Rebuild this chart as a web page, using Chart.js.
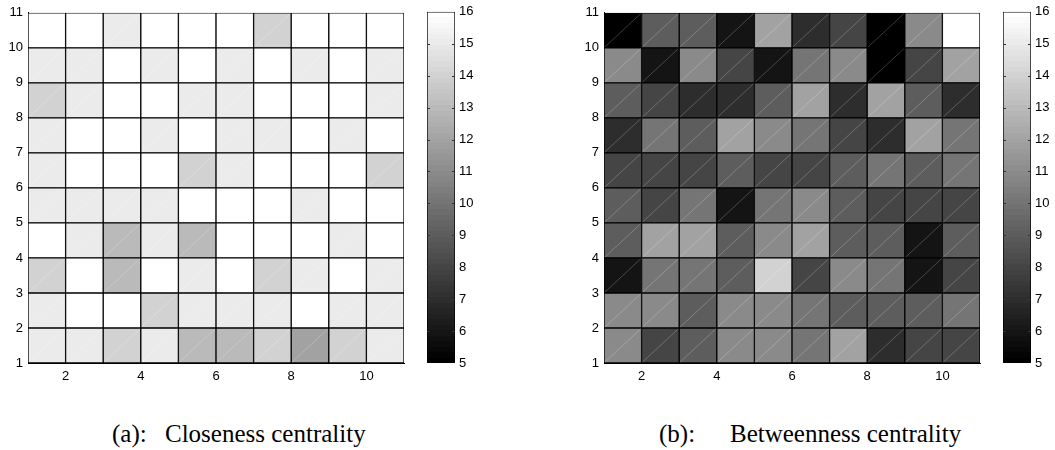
<!DOCTYPE html>
<html>
<head>
<meta charset="utf-8">
<script src="https://cdn.jsdelivr.net/npm/chart.js@4/dist/chart.umd.min.js"></script>
<style>
  html, body { margin: 0; padding: 0; background: #fff; }
  #wrap { position: relative; width: 1055px; height: 450px; overflow: hidden; background: #fff; }
  canvas { position: absolute; top: 0; }
  .cap { position: absolute; top: 421px; font-family: "Liberation Serif", "Times New Roman", serif; font-size: 25px; line-height: 25px; color: #000; white-space: nowrap; }
</style>
</head>
<body>
<div id="wrap">
  <canvas id="hmA" width="420" height="400" style="left:0px"></canvas>
  <canvas id="cbA" width="60" height="400" style="left:420px"></canvas>
  <canvas id="hmB" width="420" height="400" style="left:576px"></canvas>
  <canvas id="cbB" width="60" height="400" style="left:996px"></canvas>
  <span class="cap" style="left:112px">(a):</span>
  <span class="cap" style="left:165px">Closeness centrality</span>
  <span class="cap" style="left:659px">(b):</span>
  <span class="cap" style="left:730px">Betweenness centrality</span>
</div>
<script>
// ---- data (rows listed from top y=10..11 down to bottom y=1..2; columns x=1..10) ----
const columns = [1, 2, 3, 4, 5, 6, 7, 8, 9, 10];
const rowStarts = [10, 9, 8, 7, 6, 5, 4, 3, 2, 1];
const closenessRows = [
  [16,16,15,16,16,16,14,16,16,16],
  [15,15,16,15,16,15,16,15,16,15],
  [14,15,16,16,15,15,16,16,16,15],
  [15,16,16,15,16,15,15,16,15,16],
  [15,16,16,16,14,15,16,16,16,14],
  [15,15,15,15,16,16,16,15,16,16],
  [16,15,13,15,13,16,16,16,15,16],
  [14,16,13,16,15,16,14,15,16,15],
  [15,16,16,14,15,15,15,16,15,15],
  [15,15,14,15,13,13,14,12,14,15]
];
const betweennessRows = [
  [5,9,9,6,12,7,8,5,11,16],
  [11,6,11,8,6,10,11,5,8,12],
  [9,8,7,7,9,12,7,12,9,7],
  [7,10,9,12,11,10,8,7,12,10],
  [8,8,8,9,8,8,9,10,9,10],
  [9,8,10,6,10,11,9,8,8,8],
  [9,12,12,9,11,12,9,9,6,9],
  [6,10,10,9,14,8,11,10,6,8],
  [11,11,9,11,11,10,9,9,9,10],
  [11,8,9,11,11,10,12,7,8,8]
];
const xTicks = [2, 4, 6, 8, 10];
const yTicks = [1, 2, 3, 4, 5, 6, 7, 8, 9, 10, 11];
const cbTicks = [5, 6, 7, 8, 9, 10, 11, 12, 13, 14, 15, 16];
const cRange = [5, 16];

// ---- MATLAB gray(64) colormap ----
const NLEV = 64;
function grayLevel(i) { const g = Math.round(255 * i / (NLEV - 1)); return `rgb(${g},${g},${g})`; }
function colorOf(v) {
  let i = Math.floor((v - cRange[0]) / (cRange[1] - cRange[0]) * NLEV);
  i = Math.max(0, Math.min(NLEV - 1, i));
  return grayLevel(i);
}

const tickFont = { family: "'Liberation Sans', Arial, Helvetica, sans-serif", size: 13 };

const diagPlugin = {
  id: 'diag',
  afterDatasetsDraw(chart) {
    const ctx = chart.ctx;
    const meta = chart.getDatasetMeta(0);
    ctx.save();
    ctx.strokeStyle = 'rgba(255,255,255,0.28)';
    ctx.lineWidth = 0.8;
    meta.data.forEach(el => {
      const p = el.getProps(['x', 'y', 'base', 'width'], true);
      const l = p.x - p.width / 2 + 1, r = p.x + p.width / 2 - 1;
      ctx.beginPath();
      ctx.moveTo(l, p.base - 1);
      ctx.lineTo(r, p.y + 1);
      ctx.stroke();
    });
    ctx.restore();
  }
};

function makeHeatmap(id, rows) {
  const cells = [], colors = [];
  rows.forEach((row, k) => {
    row.forEach((v, j) => {
      cells.push({ x: columns[j] + 0.5, y: [rowStarts[k], rowStarts[k] + 1] });
      colors.push(colorOf(v));
    });
  });
  return new Chart(document.getElementById(id), {
    type: 'bar',
    data: {
      datasets: [{
        data: cells,
        backgroundColor: colors,
        borderColor: '#000',
        borderWidth: 1,
        borderSkipped: false,
        barPercentage: 1,
        categoryPercentage: 1
      }]
    },
    plugins: [diagPlugin],
    options: {
      responsive: false,
      animation: false,
      devicePixelRatio: 1,
      layout: { padding: { top: 11, right: 16, bottom: 0, left: 0 } },
      plugins: { legend: { display: false }, tooltip: { enabled: false } },
      scales: {
        x: {
          type: 'linear', min: 1, max: 11, offset: false,
          grid: { display: false, drawTicks: false },
          border: { display: true, color: '#000', width: 1 },
          ticks: { color: '#000', font: tickFont, padding: 6, maxRotation: 0 },
          afterBuildTicks: s => { s.ticks = xTicks.map(v => ({ value: v })); },
          afterFit: s => { s.height = 37; }
        },
        y: {
          type: 'linear', min: 1, max: 11,
          grid: { display: false, drawTicks: false },
          border: { display: true, color: '#000', width: 1 },
          ticks: { color: '#000', font: tickFont, padding: 5 },
          afterBuildTicks: s => { s.ticks = yTicks.map(v => ({ value: v })); },
          afterFit: s => { s.width = 28; }
        }
      }
    }
  });
}

const cbTickPlugin = {
  id: 'cbticks',
  afterDatasetsDraw(chart) {
    const ctx = chart.ctx, ys = chart.scales.y, a = chart.chartArea;
    ctx.save();
    ctx.strokeStyle = '#333';
    ctx.lineWidth = 1;
    cbTicks.forEach(v => {
      if (v === cRange[0] || v === cRange[1]) return;
      const y = Math.round(ys.getPixelForValue(v)) + 0.5;
      ctx.beginPath();
      ctx.moveTo(a.left, y); ctx.lineTo(a.left + 3, y);
      ctx.moveTo(a.right - 3, y); ctx.lineTo(a.right, y);
      ctx.stroke();
    });
    ctx.restore();
  }
};

function makeColorbar(id) {
  return new Chart(document.getElementById(id), {
    type: 'bar',
    data: {
      labels: ['cb'],
      datasets: [{
        data: [cRange],
        backgroundColor: (c) => {
          const a = c.chart.chartArea;
          if (!a) return '#888';
          const g = c.chart.ctx.createLinearGradient(0, a.bottom, 0, a.top);
          for (let i = 0; i < NLEV; i++) {
            g.addColorStop(i / NLEV, grayLevel(i));
            g.addColorStop((i + 1) / NLEV, grayLevel(i));
          }
          return g;
        },
        borderColor: '#000',
        borderWidth: 1,
        borderSkipped: false,
        barPercentage: 1,
        categoryPercentage: 1
      }]
    },
    plugins: [cbTickPlugin],
    options: {
      responsive: false,
      animation: false,
      devicePixelRatio: 1,
      layout: { padding: { top: 11, right: 0, bottom: 37, left: 7 } },
      plugins: { legend: { display: false }, tooltip: { enabled: false } },
      scales: {
        x: { type: 'category', display: false },
        y: {
          type: 'linear', position: 'right', min: cRange[0], max: cRange[1],
          grid: { display: false, drawTicks: false },
          border: { display: false },
          ticks: { color: '#000', font: tickFont, padding: 4 },
          afterBuildTicks: s => { s.ticks = cbTicks.map(v => ({ value: v })); },
          afterFit: s => { s.width = 25; }
        }
      }
    }
  });
}

makeHeatmap('hmA', closenessRows);
makeColorbar('cbA');
makeHeatmap('hmB', betweennessRows);
makeColorbar('cbB');
</script>
</body>
</html>
